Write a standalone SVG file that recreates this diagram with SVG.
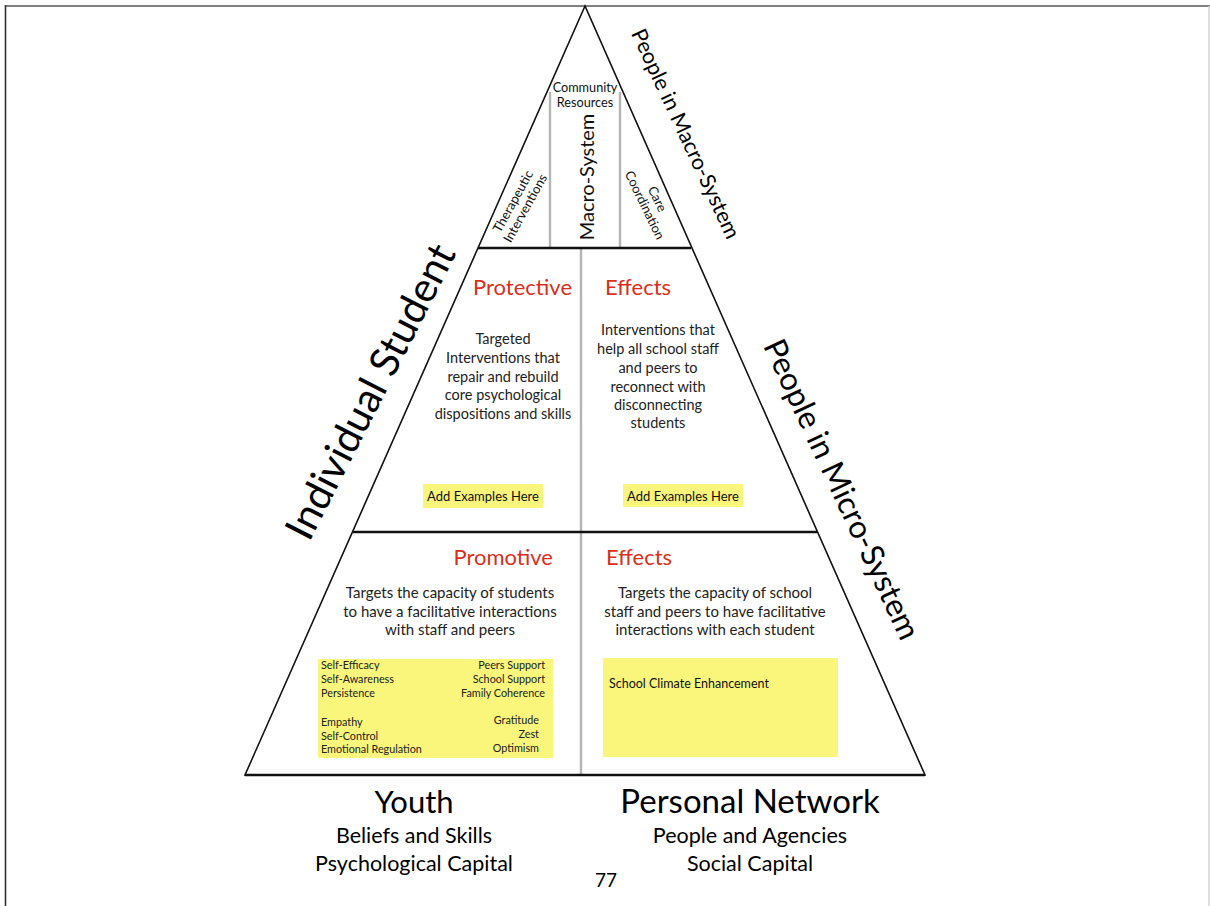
<svg xmlns="http://www.w3.org/2000/svg" width="1210" height="906" viewBox="0 0 1210 906">
  <style>
    text { font-family: Lato, "Open Sans", "Liberation Sans", sans-serif; fill: #111; }
    .edge { stroke: #111; stroke-width: 1.6; fill: none; }
    .band { stroke: #111; stroke-width: 2.6; }
    .split { stroke: #b4b4b4; stroke-width: 2.4; }
    .title { font-size: 22px; fill: #d7301d; }
    .body { font-size: 14.5px; text-anchor: middle; fill: #222; }
    .wide { font-size: 15px; }
    .note { fill: #faf67c; }
    .small { font-size: 10.8px; fill: #222; }
    .side { fill: #000; text-anchor: middle; }
    .foot { text-anchor: middle; fill: #000; }
  </style>

  <!-- page frame -->
  <g id="frame">
    <line x1="5" y1="6" x2="1210" y2="6" stroke="#808080" stroke-width="2"/>
    <line x1="5.5" y1="5" x2="5.5" y2="906" stroke="#333" stroke-width="1.6"/>
    <line x1="1209" y1="6" x2="1209" y2="906" stroke="#d0d0d0" stroke-width="1.4"/>
  </g>

  <!-- pyramid outline, tier bands and column splits -->
  <g id="connectors">
    <polygon class="edge" points="585,6 245,775 925,775"/>
    <line class="split" x1="550" y1="92" x2="550" y2="247"/>
    <line class="split" x1="620" y1="92" x2="620" y2="247"/>
    <line class="split" x1="581" y1="248" x2="581" y2="775"/>
    <line class="band" x1="478" y1="248" x2="691" y2="248"/>
    <line class="band" x1="353" y1="532" x2="817" y2="532"/>
    <line class="band" x1="245" y1="775" x2="925" y2="775"/>
  </g>

  <!-- top tier: macro-system -->
  <g id="macro-system">
    <text x="585" y="92" font-size="12.7" text-anchor="middle" fill="#222">Community</text>
    <text x="585" y="107" font-size="12.7" text-anchor="middle" fill="#222">Resources</text>
    <text transform="translate(594,177) rotate(-90)" font-size="20" text-anchor="middle" fill="#000">Macro-System</text>
    <text transform="translate(523,207) rotate(-61)" font-size="13" text-anchor="middle" fill="#222"><tspan x="0" dy="-7">Therapeutic</tspan><tspan x="0" dy="14">Interventions</tspan></text>
    <text transform="translate(647,204) rotate(64)" font-size="13" text-anchor="middle" fill="#222"><tspan x="0" dy="-7">Care</tspan><tspan x="0" dy="14">Coordination</tspan></text>
  </g>

  <!-- middle tier: protective -->
  <g id="protective">
    <text class="title" x="572" y="295" text-anchor="end">Protective</text>
    <text class="body" x="503" y="344">Targeted</text>
    <text class="body" x="503" y="363">Interventions that</text>
    <text class="body" x="503" y="382">repair and rebuild</text>
    <text class="body" x="503" y="400">core psychological</text>
    <text class="body" x="503" y="419">dispositions and skills</text>
    <rect class="note" x="423" y="484" width="120" height="24"/>
    <text x="483" y="501" font-size="13" text-anchor="middle" fill="#111">Add Examples Here</text>
  </g>

  <g id="protective-effects">
    <text class="title" x="605" y="295">Effects</text>
    <text class="body" x="658" y="335">Interventions that</text>
    <text class="body" x="658" y="354">help all school staff</text>
    <text class="body" x="658" y="373">and peers to</text>
    <text class="body" x="658" y="392">reconnect with</text>
    <text class="body" x="658" y="410">disconnecting</text>
    <text class="body" x="658" y="428">students</text>
    <rect class="note" x="623" y="484" width="120" height="23"/>
    <text x="683" y="501" font-size="13" text-anchor="middle" fill="#111">Add Examples Here</text>
  </g>

  <!-- bottom tier: promotive -->
  <g id="promotive">
    <text class="title" x="553" y="565" text-anchor="end">Promotive</text>
    <text class="body wide" x="450" y="598">Targets the capacity of students</text>
    <text class="body wide" x="450" y="617">to have a facilitative interactions</text>
    <text class="body wide" x="450" y="635">with staff and peers</text>
    <rect class="note" x="318" y="659" width="235" height="99"/>
    <text class="small" x="321" y="669">Self-Efficacy</text>
    <text class="small" x="321" y="683">Self-Awareness</text>
    <text class="small" x="321" y="697">Persistence</text>
    <text class="small" x="321" y="726">Empathy</text>
    <text class="small" x="321" y="740">Self-Control</text>
    <text class="small" x="321" y="753">Emotional Regulation</text>
    <text class="small" x="545" y="669" text-anchor="end">Peers Support</text>
    <text class="small" x="545" y="683" text-anchor="end">School Support</text>
    <text class="small" x="545" y="697" text-anchor="end">Family Coherence</text>
    <text class="small" x="539" y="724" text-anchor="end">Gratitude</text>
    <text class="small" x="539" y="738" text-anchor="end">Zest</text>
    <text class="small" x="539" y="752" text-anchor="end">Optimism</text>
  </g>

  <g id="promotive-effects">
    <text class="title" x="606" y="565">Effects</text>
    <text class="body wide" x="715" y="598">Targets the capacity of school</text>
    <text class="body wide" x="715" y="617">staff and peers to have facilitative</text>
    <text class="body wide" x="715" y="635">interactions with each student</text>
    <rect class="note" x="603" y="658" width="235" height="99"/>
    <text x="609" y="688" font-size="12.5" fill="#222">School Climate Enhancement</text>
  </g>

  <!-- side labels along the pyramid edges -->
  <g id="side-labels">
    <text class="side" transform="translate(383,398) rotate(-63)" font-size="41">Individual Student</text>
    <text class="side" transform="translate(679,137) rotate(65)" font-size="21.5">People in Macro-System</text>
    <text class="side" transform="translate(832,494) rotate(65)" font-size="31.5">People in Micro-System</text>
  </g>

  <!-- captions under the base -->
  <g id="youth">
    <text class="foot" x="414" y="813" font-size="31">Youth</text>
    <text class="foot" x="414" y="843" font-size="21.5">Beliefs and Skills</text>
    <text class="foot" x="414" y="871" font-size="21.5">Psychological Capital</text>
  </g>
  <g id="personal-network">
    <text class="foot" x="750" y="813" font-size="33">Personal Network</text>
    <text class="foot" x="750" y="843" font-size="21.5">People and Agencies</text>
    <text class="foot" x="750" y="871" font-size="21.5">Social Capital</text>
  </g>
  <g id="page-number">
    <text class="foot" x="606" y="887" font-size="19">77</text>
  </g>
</svg>
